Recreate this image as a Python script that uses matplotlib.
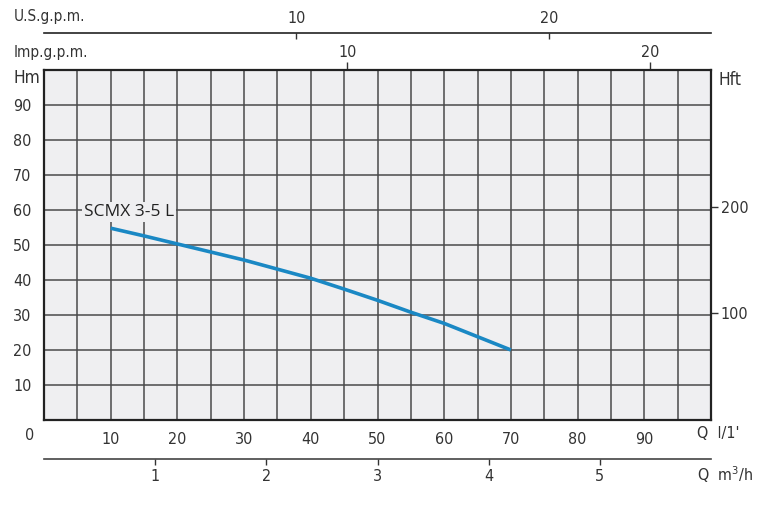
import matplotlib.pyplot as plt
import numpy as np

# pump curve SCMX 3-5 L
q_lpm = [10, 15, 20, 25, 30, 35, 40, 45, 50, 55, 60, 65, 70]
h_m = [54.8, 52.6, 50.3, 48.0, 45.7, 43.1, 40.5, 37.4, 34.2, 30.8, 27.6, 23.8, 20.0]

x_ticks = [10, 20, 30, 40, 50, 60, 70, 80, 90]
y_ticks = [10, 20, 30, 40, 50, 60, 70, 80, 90]
m3h_ticks = [1, 2, 3, 4, 5]
usgpm_ticks = [10, 20]
impgpm_ticks = [10, 20]
hft_ticks = [100, 200]

FT = 0.3048
USG = 3.785
IMPG = 4.546

plt.rcParams['font.family'] = 'DejaVu Sans'
plt.rcParams['font.stretch'] = 'condensed'
fs = 11.5
grey = '#333333'

fig = plt.figure(figsize=(7.7, 5.08), dpi=100)
ax = fig.add_axes([44 / 770, 88 / 508, 667 / 770, 350 / 508])
ax.set_facecolor('#efeff1')
ax.set_xlim(0, 100)
ax.set_ylim(0, 100)

xgrid = np.arange(0, 101, 5)
ygrid = np.arange(0, 101, 10)
ax.set_xticks(xgrid)
ax.set_yticks(ygrid)
ax.set_xticklabels([str(v) if v in x_ticks else '' for v in xgrid])
ax.set_yticklabels([str(v) if v in y_ticks else '' for v in ygrid])
ax.grid(True, color='#4a4a4a', linewidth=1.1)
ax.set_axisbelow(True)
ax.tick_params(length=0, labelsize=fs, colors=grey, pad=9)
for s in ax.spines.values():
    s.set_linewidth(1.6)
    s.set_color('#222222')

ax.plot(q_lpm, h_m, color='#1a88c4', linewidth=2.6, solid_capstyle='butt', zorder=3)
ax.text(6.0, 59.4, 'SCMX 3-5 L', family='Open Sans', stretch='normal', fontsize=12.5,
        color='#222222', va='center', ha='left', zorder=4,
        bbox=dict(facecolor='#efeff1', edgecolor='none', pad=1.5))

# labels outside the grid
fig.text(30 / 770, 1 - 435 / 508, '0', fontsize=fs, color=grey, ha='center', va='center')
fig.text(27 / 770, 1 - 78 / 508, 'Hm', fontsize=fs + 1, color=grey, ha='center', va='center')
fig.text(718 / 770, 1 - 80 / 508, 'Hft', fontsize=fs + 1, color=grey, ha='left', va='center')
fig.text(697 / 770, 1 - 434 / 508, "Q  l/1'", fontsize=fs, color=grey, ha='left', va='center')
fig.text(697 / 770, 1 - 475 / 508, 'Q  m$^3$/h', fontsize=fs, color=grey, ha='left', va='center')
fig.text(14 / 770, 1 - 17 / 508, 'U.S.g.p.m.', fontsize=fs - 0.5, color=grey, ha='left', va='center')
fig.text(14 / 770, 1 - 53 / 508, 'Imp.g.p.m.', fontsize=fs - 0.5, color=grey, ha='left', va='center')

# m3/h scale
sec_m3 = ax.secondary_xaxis(-39 / 350, functions=(lambda x: x * 0.06, lambda x: x / 0.06))
sec_m3.set_xticks(m3h_ticks)
sec_m3.tick_params(direction='out', length=4, width=1, labelsize=fs, colors=grey, pad=3)
sec_m3.spines['bottom'].set_linewidth(1.2)
sec_m3.spines['bottom'].set_color('#444444')

# U.S. gpm scale
sec_us = ax.secondary_xaxis(387 / 350, functions=(lambda x: x / USG, lambda x: x * USG))
sec_us.set_xticks(usgpm_ticks)
sec_us.tick_params(direction='in', length=4, width=1, labelsize=fs, colors=grey, pad=5)
sec_us.spines['top'].set_linewidth(1.2)
sec_us.spines['top'].set_color('#222222')

# Imp gpm scale
sec_imp = ax.secondary_xaxis('top', functions=(lambda x: x / IMPG, lambda x: x * IMPG))
sec_imp.set_xticks(impgpm_ticks)
sec_imp.tick_params(direction='out', length=6, width=1, labelsize=fs, colors=grey, pad=1)
sec_imp.spines['top'].set_visible(False)

# feet scale
sec_ft = ax.secondary_yaxis('right', functions=(lambda y: y / FT, lambda y: y * FT))
sec_ft.set_yticks(hft_ticks)
sec_ft.tick_params(direction='out', length=5, width=1, labelsize=fs, colors=grey, pad=2)
sec_ft.spines['right'].set_visible(False)

fig.savefig('out.png', dpi=100)
